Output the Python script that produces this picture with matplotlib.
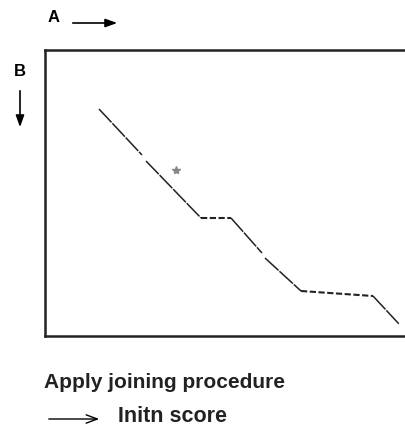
import matplotlib
matplotlib.use('Agg')
import matplotlib.pyplot as plt
from matplotlib.patches import FancyArrowPatch

plt.rcParams['font.family'] = ['Liberation Sans', 'DejaVu Sans']

# diagonal (joined) runs: position in sequence A, position in sequence B
run_a = [[54, 97], [101, 156], [186, 217], [220, 256], [328, 354]]
run_b = [[59, 105], [111, 168], [168, 203], [208, 241], [246, 274]]
# gaps bridged by the joining procedure
gap_a = [[156, 186], [256, 328]]
gap_b = [[168, 168], [241, 246]]
# isolated hit
dot_a = [131]
dot_b = [120]

W, H = 405, 438


def fx(px):
    return px / W


def fy(py):
    return 1 - py / H


fig = plt.figure(figsize=(4.05, 4.38), dpi=100)
ax = fig.add_axes([fx(45), fy(336), 370 / W, 286 / H])
ax.set_xlim(0, 370)
ax.set_ylim(286, 0)
ax.set_xticks([])
ax.set_yticks([])
ax.spines['right'].set_visible(False)
for s in ['left', 'top', 'bottom']:
    ax.spines[s].set_linewidth(1.8)
    ax.spines[s].set_color('#222222')

for xs, ys in zip(run_a, run_b):
    ax.plot(xs, ys, color='#222222', lw=1.1, ls=(0, (12, 0.8)))
for xs, ys in zip(gap_a, gap_b):
    ax.plot(xs, ys, color='#222222', lw=1.5, ls=(0, (3, 1.2)))
ax.plot(dot_a, dot_b, ls='none', marker='*', ms=6, color='#888888')

# axis labels with arrows
fig.text(fx(48), fy(17), 'A', fontsize=12, fontweight='bold', va='center', ha='left')
fig.add_artist(FancyArrowPatch(
    (fx(70), fy(23)), (fx(120), fy(23)), transform=fig.transFigure,
    arrowstyle='-|>,head_length=7,head_width=2.5', color='black', lw=1.2))
fig.text(fx(14), fy(71), 'B', fontsize=12, fontweight='bold', va='center', ha='left')
fig.add_artist(FancyArrowPatch(
    (fx(20), fy(88)), (fx(20), fy(130)), transform=fig.transFigure,
    arrowstyle='-|>,head_length=7,head_width=2.5', color='black', lw=1.2))

fig.text(fx(44), fy(383), 'Apply joining procedure', fontsize=15,
         fontweight='bold', va='center', ha='left', color='#222222')
fig.add_artist(FancyArrowPatch(
    (fx(46), fy(419)), (fx(102), fy(419)), transform=fig.transFigure,
    arrowstyle='->,head_length=8,head_width=3', color='black', lw=1.0))
fig.text(fx(118), fy(417), 'Initn score', fontsize=15.5,
         fontweight='bold', va='center', ha='left', color='#222222')

fig.savefig('out.png', dpi=100)
